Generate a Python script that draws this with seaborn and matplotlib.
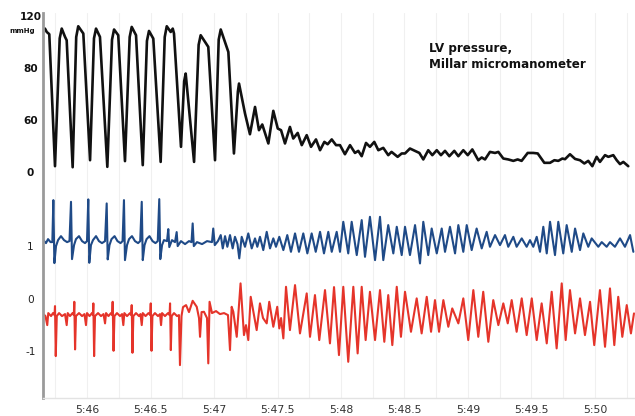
import matplotlib
matplotlib.use("Agg")
import matplotlib.pyplot as plt
import seaborn as sns
import pandas as pd
from matplotlib.transforms import blended_transform_factory

# ---------------- data (time in s after 5:00, i.e. 46.0 == 5:46) ----------------
lv_trace = [  # (time s, LV pressure mmHg)
    (45.669,110.5),(45.683,107.9),(45.703,106.2),(45.748,4.6),
    (45.785,103.0),(45.801,110.5),(45.827,104.1),(45.840,101.5),(45.887,3.8),
    (45.915,104.0),(45.931,112.3),(45.971,106.7),(46.024,9.2),
    (46.055,103.0),(46.071,110.5),(46.102,104.1),(46.160,4.1),
    (46.197,102.0),(46.213,109.8),(46.246,105.4),(46.299,8.5),
    (46.336,104.0),(46.352,111.8),(46.386,105.4),(46.439,5.4),
    (46.472,101.0),(46.488,108.7),(46.522,102.8),(46.580,7.9),
    (46.612,104.0),(46.628,112.3),(46.659,107.9),(46.675,110.5),(46.685,106.7),(46.740,19.5),
    (46.765,70.0),(46.777,75.9),(46.843,7.9),
    (46.879,98.0),(46.895,105.4),(46.955,96.4),(47.008,9.2),
    (47.037,102.0),(47.053,109.8),(47.113,92.5),(47.157,14.4),
    (47.188,62.0),(47.197,68.2),(47.244,45.2),(47.283,29.2),
    (47.323,50.2),(47.354,32.3),(47.380,36.7),(47.428,22.1),
    (47.467,47.2),(47.502,33.6),(47.528,32.3),(47.559,22.1),
    (47.598,34.8),(47.624,25.9),(47.659,30.2),(47.691,20.8),
    (47.730,28.5),(47.764,19.5),(47.803,25.2),(47.835,16.9),(47.869,23.3),(47.895,21.5),
    (47.927,25.2),(47.961,20.8),(47.992,20.8),(48.031,13.8),(48.071,20.8),(48.110,14.8),
    (48.136,16.4),(48.163,12.3),(48.197,22.5),(48.228,19.5),(48.262,23.3),(48.294,16.9),
    (48.333,18.7),(48.372,13.1),(48.398,15.6),(48.446,11.8),(48.478,14.4),(48.504,14.4),
    (48.543,18.2),(48.583,16.4),(48.617,14.8),(48.648,9.8),(48.687,16.9),(48.719,13.1),
    (48.754,16.9),(48.787,13.1),(48.819,16.4),(48.853,12.3),(48.892,16.4),(48.924,12.3),
    (48.963,16.9),(48.998,13.1),(49.034,17.5),(49.081,9.2),(49.108,11.3),(49.134,9.8),
    (49.173,15.6),(49.213,14.8),(49.239,15.6),(49.278,10.5),(49.317,9.8),(49.357,8.7),
    (49.391,9.8),(49.422,8.7),(49.470,14.8),(49.514,14.8),(49.549,14.4),(49.601,7.2),
    (49.646,7.2),(49.680,9.2),(49.711,8.7),(49.743,10.5),(49.764,10.0),(49.803,13.8),
    (49.843,10.2),(49.882,9.2),(49.916,6.7),(49.947,8.7),(49.979,4.6),(50.013,11.8),
    (50.039,7.9),(50.079,13.1),(50.105,11.8),(50.144,13.1),(50.171,9.2),(50.197,6.2),
    (50.223,7.9),(50.262,4.6),
]

blue_trace = [  # (time s, signal units)
    (45.656,1.114),(45.677,1.057),(45.693,1.133),(45.713,1.076),(45.727,1.076),
    (45.735,1.876),(45.743,0.676),(45.756,1.000),(45.772,1.114),(45.795,1.190),(45.819,1.114),(45.843,1.076),(45.862,1.095),
    (45.874,1.844),(45.882,0.752),(45.898,1.019),(45.913,1.133),(45.937,1.190),(45.961,1.095),(45.984,1.057),(46.000,1.095),
    (46.010,1.890),(46.018,0.682),(46.031,1.019),(46.047,1.114),(46.071,1.190),(46.094,1.095),(46.118,1.057),(46.142,1.095),
    (46.155,1.813),(46.163,0.747),(46.177,1.019),(46.193,1.133),(46.217,1.190),(46.240,1.095),(46.264,1.057),(46.280,1.095),
    (46.291,1.876),(46.299,0.733),(46.315,1.019),(46.331,1.133),(46.354,1.190),(46.378,1.095),(46.402,1.057),(46.419,1.095),
    (46.431,1.844),(46.439,0.733),(46.453,1.019),(46.469,1.133),(46.492,1.190),(46.516,1.095),(46.539,1.057),(46.557,1.095),
    (46.569,1.895),(46.577,0.752),(46.591,1.019),(46.606,1.114),
    (46.630,1.095),(46.640,1.324),(46.648,0.981),(46.669,1.114),(46.693,1.076),(46.706,1.267),(46.714,1.000),
    (46.740,1.095),(46.772,1.038),(46.803,1.095),(46.823,1.076),(46.832,1.432),(46.841,1.000),(46.866,1.076),
    (46.906,1.038),(46.945,1.095),(46.984,1.076),(46.994,1.335),(47.006,1.019),(47.031,1.095),
    (47.053,1.210),(47.069,0.956),(47.087,1.190),(47.105,0.987),(47.126,1.210),(47.147,0.956),(47.165,1.177),
    (47.185,1.038),(47.199,0.766),(47.218,1.177),(47.244,0.987),(47.270,1.242),(47.297,0.956),(47.323,1.147),
    (47.341,0.987),(47.362,1.177),(47.388,0.924),(47.415,1.272),(47.441,0.956),(47.467,1.147),(47.488,0.987),
    (47.514,1.177),(47.546,0.924),(47.577,1.210),(47.606,0.891),(47.638,1.242),(47.669,0.891),(47.703,1.242),
    (47.735,0.861),(47.769,1.242),(47.801,0.891),(47.835,1.272),(47.866,0.861),(47.900,1.272),(47.927,0.891),
    (47.966,1.272),(47.992,0.891),(48.018,1.463),(48.057,0.861),(48.084,1.463),(48.124,0.829),(48.163,1.495),
    (48.189,0.796),(48.228,1.558),(48.268,0.733),(48.307,1.558),(48.333,0.733),(48.372,1.400),(48.412,0.861),
    (48.439,1.368),(48.478,0.829),(48.504,1.368),(48.543,0.829),(48.583,1.400),(48.622,0.670),(48.648,1.463),
    (48.687,0.829),(48.714,1.335),(48.754,0.861),(48.793,1.335),(48.819,0.891),(48.858,1.368),(48.898,0.861),
    (48.924,1.400),(48.963,0.891),(48.990,1.400),(49.029,0.924),(49.068,1.335),(49.108,0.956),(49.147,1.272),
    (49.173,0.987),(49.213,1.210),(49.252,1.019),(49.291,1.210),(49.317,0.987),(49.357,1.177),(49.383,0.987),
    (49.423,1.147),(49.462,0.987),(49.488,1.114),(49.514,0.987),(49.541,1.177),(49.567,0.891),(49.593,1.368),
    (49.620,0.861),(49.646,1.463),(49.685,0.829),(49.711,1.463),(49.750,0.861),(49.777,1.400),(49.817,0.891),
    (49.843,1.335),(49.882,0.924),(49.908,1.242),(49.947,0.987),(49.974,1.147),(50.026,0.987),(50.053,1.076),
    (50.092,0.987),(50.118,1.076),(50.157,0.987),(50.197,1.147),(50.236,0.987),(50.276,1.210),(50.302,0.891),
]

red_trace = [  # (time s, signal units)
    (45.656,-0.295),(45.673,-0.333),(45.687,-0.505),(45.695,-0.276),(45.717,-0.333),(45.732,-0.276),(45.744,-0.314),
    (45.748,-0.143),(45.754,-1.095),(45.762,-0.333),(45.780,-0.276),(45.803,-0.333),(45.827,-0.295),(45.840,-0.505),
    (45.848,-0.276),(45.866,-0.333),(45.886,-0.276),(45.896,-0.314),(45.900,-0.061),(45.906,-0.968),(45.913,-0.333),
    (45.937,-0.276),(45.961,-0.333),(45.980,-0.295),(45.992,-0.505),(46.000,-0.276),(46.020,-0.333),(46.039,-0.276),
    (46.046,-0.314),(46.050,-0.091),(46.056,-1.095),(46.063,-0.333),(46.087,-0.276),(46.110,-0.333),(46.130,-0.295),
    (46.142,-0.472),(46.150,-0.276),(46.169,-0.333),(46.189,-0.276),(46.198,-0.314),(46.202,-0.061),(46.209,-0.994),
    (46.216,-0.333),(46.236,-0.276),(46.260,-0.333),(46.276,-0.295),(46.286,-0.505),(46.294,-0.276),(46.315,-0.333),
    (46.339,-0.276),(46.348,-0.314),(46.352,-0.124),(46.358,-1.032),(46.365,-0.333),(46.386,-0.276),(46.409,-0.333),
    (46.421,-0.295),(46.431,-0.505),(46.439,-0.276),(46.461,-0.333),(46.484,-0.276),(46.498,-0.314),(46.502,-0.091),
    (46.508,-0.994),(46.515,-0.333),(46.535,-0.276),(46.559,-0.333),(46.575,-0.295),(46.583,-0.505),(46.591,-0.276),
    (46.614,-0.333),(46.638,-0.276),(46.650,-0.314),(46.654,-0.091),(46.660,-0.981),(46.667,-0.333),(46.685,-0.276),
    (46.709,-0.333),(46.724,-0.314),(46.732,-1.267),(46.744,-0.333),(46.756,-0.162),(46.780,-0.124),(46.803,-0.257),
    (46.832,-0.042),(46.864,-0.156),(46.882,-0.371),(46.890,-0.728),(46.902,-0.257),(46.921,-0.251),(46.945,-0.371),
    (46.955,-1.234),(46.965,-0.061),(46.984,-0.276),(47.016,-0.238),(47.047,-0.295),(47.079,-0.276),(47.110,-0.314),
    (47.126,-0.981),(47.139,-0.156),(47.152,-0.251),(47.179,-0.728),(47.209,0.290),(47.236,-0.695),(47.252,-0.505),
    (47.270,-0.790),(47.289,0.034),(47.336,-0.600),(47.362,-0.091),(47.386,-0.371),(47.415,-0.472),(47.435,-0.061),
    (47.467,-0.537),(47.498,-0.156),(47.514,-0.568),(47.528,-0.371),(47.546,-0.758),(47.567,0.225),(47.598,-0.600),
    (47.638,0.257),(47.677,-0.663),(47.730,0.099),(47.756,-0.728),(47.795,0.067),(47.829,-0.790),(47.874,0.162),
    (47.913,-0.853),(47.945,0.219),(47.984,-1.076),(48.018,0.225),(48.057,-1.204),(48.097,0.225),(48.131,-1.044),
    (48.163,0.225),(48.194,-0.790),(48.228,0.130),(48.268,-0.790),(48.307,0.162),(48.341,-0.823),(48.372,0.067),
    (48.404,-0.886),(48.439,0.225),(48.472,-0.728),(48.504,0.130),(48.551,-0.632),(48.596,0.004),(48.635,-0.663),
    (48.675,0.034),(48.709,-0.632),(48.740,-0.029),(48.772,-0.632),(48.806,-0.029),(48.845,-0.537),(48.876,-0.187),
    (48.924,-0.472),(48.963,0.004),(49.002,-0.790),(49.042,0.162),(49.081,-0.728),(49.120,0.130),(49.160,-0.823),
    (49.199,-0.029),(49.239,-0.505),(49.278,-0.091),(49.313,-0.472),(49.344,-0.029),(49.383,-0.632),(49.423,0.004),
    (49.462,-0.695),(49.502,0.004),(49.541,-0.790),(49.580,-0.091),(49.620,-0.853),(49.659,0.130),(49.698,-0.949),
    (49.738,0.290),(49.769,-0.790),(49.803,0.162),(49.843,-0.663),(49.882,0.004),(49.921,-0.695),(49.961,-0.061),
    (49.994,-0.886),(50.039,0.162),(50.079,-0.918),(50.118,0.194),(50.152,-0.886),(50.183,0.034),(50.215,-0.728),
    (50.250,-0.124),(50.283,-0.663),(50.307,-0.282),
]

x_ticks = [46.0, 46.5, 47.0, 47.5, 48.0, 48.5, 49.0, 49.5, 50.0]
x_tick_labels = ["5:46", "5:46.5", "5:47", "5:47.5", "5:48", "5:48.5", "5:49", "5:49.5", "5:50"]
pressure_ticks = [120, 80, 40, 0]
pressure_tick_labels = ["120", "80", "60", "0"]
signal_ticks = [1, 0, -1]
signal_tick_labels = ["1", "0", "-1"]
title_text = "LV pressure,\nMillar micromanometer"

# ---------------- layout / style constants ----------------
SIG_OFFSET = -97.3   # where signal value 0 sits on the shared vertical axis
SIG_GAIN = 40.4      # vertical axis units per signal unit
BLACK, BLUE, RED = "#111111", "#1f4a87", "#e5342a"

sns.set_theme(style="white")
plt.rcParams["font.family"] = ["DejaVu Sans"]

fig = plt.figure(figsize=(6.35, 4.16), dpi=100)
ax = fig.add_axes([43 / 635, 18 / 416, 592 / 635, 385 / 416])

lv = pd.DataFrame(lv_trace, columns=["t", "v"])
bl = pd.DataFrame(blue_trace, columns=["t", "v"])
rd = pd.DataFrame(red_trace, columns=["t", "v"])
bl["y"] = SIG_OFFSET + SIG_GAIN * bl["v"]
rd["y"] = SIG_OFFSET + SIG_GAIN * rd["v"]

kw = dict(ax=ax, estimator=None, sort=False, legend=False)
sns.lineplot(data=rd, x="t", y="y", color=RED, lw=1.5, **kw)
sns.lineplot(data=bl, x="t", y="y", color=BLUE, lw=1.5, **kw)
sns.lineplot(data=lv, x="t", y="v", color=BLACK, lw=1.9, **kw)
for ln in ax.lines:
    ln.set_solid_joinstyle("round")

ax.set_xlim(45.6535, 50.315)
ax.set_ylim(-173.8, 122.5)

# vertical grid every 0.25 s
for g in [45.75 + 0.25 * i for i in range(19)]:
    ax.axvline(g, color="#f0f0f0", lw=0.8, zorder=0)

ax.set_xticks(x_ticks)
ax.set_xticklabels(x_tick_labels, fontsize=7.8, color="#333333")
yt = pressure_ticks + [SIG_OFFSET + SIG_GAIN * s for s in signal_ticks]
ax.set_yticks(yt)
ax.set_yticklabels(pressure_tick_labels + signal_tick_labels, fontsize=7.6)
for i, lab in enumerate(ax.get_yticklabels()):
    lab.set_ha("center")
    if i < len(pressure_ticks):
        lab.set_fontweight("bold")
        lab.set_color("#111111")
    else:
        lab.set_color("#222222")
ax.tick_params(axis="y", length=0, pad=9)
ax.tick_params(axis="x", length=0, pad=5)
ax.set_xlabel("")
ax.set_ylabel("")

for s in ["top", "right"]:
    ax.spines[s].set_visible(False)
ax.spines["left"].set_color("#9a9a9a")
ax.spines["left"].set_linewidth(2.0)
ax.spines["bottom"].set_color("#e3e3e3")
ax.spines["bottom"].set_linewidth(1.0)

trans = blended_transform_factory(ax.transAxes, ax.transData)
ax.text(-0.036, 109, "mmHg", transform=trans, ha="center", va="center",
        fontsize=5, fontweight="bold", color="#111111")
ax.text(0.652, 0.925, title_text, transform=ax.transAxes, ha="left", va="top",
        fontsize=8.6, fontweight="bold", color="#111111", linespacing=1.3)

fig.savefig("out.png", dpi=100)
